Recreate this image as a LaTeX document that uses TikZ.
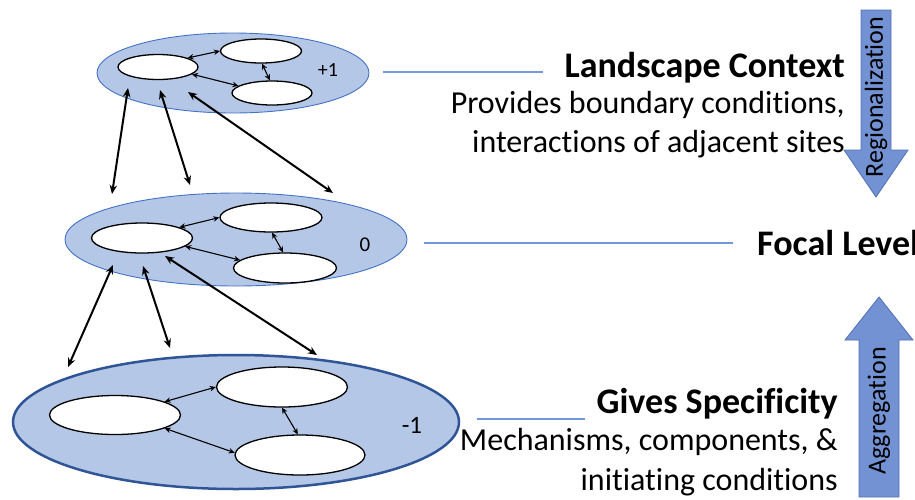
\documentclass[tikz,border=0pt]{standalone}
\usepackage{fontspec}
\setmainfont{Carlito}[Ligatures=NoCommon]
\usetikzlibrary{shapes.geometric,arrows.meta}
\definecolor{lvlfill}{RGB}{180,199,231}
\definecolor{lvlline}{RGB}{68,114,196}
\definecolor{lvldark}{RGB}{47,85,151}
\definecolor{leadcol}{RGB}{114,151,218}
\definecolor{bigarrfill}{RGB}{114,146,212}
\definecolor{bigarrline}{RGB}{80,112,180}
\newcommand\myttlfont{\fontsize{36}{40}\selectfont\bfseries}
\newcommand\mybodyfont{\fontsize{32}{38}\selectfont}
\newcommand\mylvlfont{\fontsize{20}{24}\selectfont}
\newcommand\myarrfont{\fontsize{26}{30}\selectfont}
\begin{document}
\begin{tikzpicture}[x=1pt,y=-1pt,
  level/.style={ellipse, draw=lvlline, fill=lvlfill, line width=0.9pt, inner sep=0pt},
  comp/.style={ellipse, draw=black, fill=white, line width=1.3pt, inner sep=0pt},
  link/.style={{Stealth[length=6pt,width=5.5pt]}-{Stealth[length=6pt,width=5.5pt]}, line width=1.1pt},
  cross/.style={{Stealth[length=9pt,width=7.5pt]}-{Stealth[length=9pt,width=7.5pt]}, line width=2pt},
  lead/.style={draw=leadcol, line width=1.2pt},
  bigarr/.style={fill=bigarrfill, draw=bigarrline, line width=0.8pt},
  ttl/.style={anchor=base east, inner sep=0pt, font=\myttlfont},
  body/.style={anchor=base east, inner sep=0pt, font=\mybodyfont},
  lvltxt/.style={inner sep=0pt, font=\mylvlfont},
  arrtxt/.style={rotate=90, inner sep=0pt, font=\myarrfont}]
\useasboundingbox (0,0) rectangle (915,499);
\clip (0,0) rectangle (915,499);

% level ellipses
\node[level, minimum width=272pt, minimum height=80pt] (Lt) at (233,73) {};
\node[level, minimum width=342pt, minimum height=93pt] (Lm) at (236,239.5) {};
\node[level, draw=lvldark, line width=2.5pt, minimum width=446pt, minimum height=134pt] (Lb) at (236,422) {};

% components top
\node[comp, minimum width=80pt, minimum height=25pt] (tA) at (158,67) {};
\node[comp, minimum width=81pt, minimum height=24pt] (tB) at (261,51) {};
\node[comp, minimum width=80pt, minimum height=24pt] (tC) at (272,93) {};
% components middle
\node[comp, minimum width=101pt, minimum height=30pt] (mA) at (142,238) {};
\node[comp, minimum width=102pt, minimum height=29pt] (mB) at (271,217.5) {};
\node[comp, minimum width=103pt, minimum height=30pt] (mC) at (285,268) {};
% components bottom
\node[comp, minimum width=131pt, minimum height=39pt] (bA) at (115,415) {};
\node[comp, minimum width=131pt, minimum height=40pt] (bB) at (282,387) {};
\node[comp, minimum width=130pt, minimum height=40pt] (bC) at (300,455) {};

% level labels
\node[lvltxt] (lp) at (328,70) {+1};
\node[lvltxt, font=\fontsize{21}{24}\selectfont] (l0) at (365,245) {0};
\node[lvltxt, font=\fontsize{25}{28}\selectfont] (lm) at (412,425) {-1};

% links inside levels
\draw[link] (tA.17) -- (tB.180);
\draw[link] (tA.-12) -- (tC.168);
\draw[link] (tB.-85) -- (tC.100);
\draw[link] (mA.16) -- (mB.180);
\draw[link] (mA.-11) -- (mC.170);
\draw[link] (mB.-86) -- (mC.97);
\draw[link] (bA.15) -- (bB.180);
\draw[link] (bA.-15) -- (bC.178);
\draw[link] (bB.-90) -- (bC.96);

% cross-level links
\coordinate (c1a) at (128,88);  \coordinate (c1b) at (112,194);
\coordinate (c2a) at (160,90);  \coordinate (c2b) at (190,185);
\coordinate (c3a) at (188,92);  \coordinate (c3b) at (333,193);
\coordinate (d1a) at (113,265); \coordinate (d1b) at (68,367);
\coordinate (d2a) at (143,266); \coordinate (d2b) at (170,348);
\coordinate (d3a) at (165,256); \coordinate (d3b) at (317,355);
\draw[cross] (c1a) -- (c1b);
\draw[cross] (c2a) -- (c2b);
\draw[cross] (c3a) -- (c3b);
\draw[cross] (d1a) -- (d1b);
\draw[cross] (d2a) -- (d2b);
\draw[cross] (d3a) -- (d3b);

% leader lines
\coordinate (g1a) at (383,72);  \coordinate (g1b) at (543,72);
\coordinate (g2a) at (424,243); \coordinate (g2b) at (733,243);
\coordinate (g3a) at (477,419); \coordinate (g3b) at (585,419);
\draw[lead] (g1a) -- (g1b);
\draw[lead] (g2a) -- (g2b);
\draw[lead] (g3a) -- (g3b);

% texts
\node[ttl] (t1) at (845,77) {Landscape Context};
\node[body] (t2) at (845,113) {Provides boundary conditions,};
\node[body] (t3) at (845,152) {interactions of adjacent sites};
\node[ttl, anchor=base west] (t4) at (757,255) {Focal Level};
\node[ttl] (t5) at (838,413) {Gives Specificity};
\node[body] (t6) at (838,450) {Mechanisms, components, \&};
\node[body] (t7) at (838,490) {initiating conditions};

% big arrows
\path[bigarr] (861,10) -- (891,10) -- (891,150) -- (908,150) -- (876,197)
  -- (844,150) -- (861,150) -- cycle;
\node[arrtxt] (ra) at (876,97) {Regionalization};
\path[bigarr] (879,297) -- (913,340) -- (899,340) -- (899,497) -- (859,497)
  -- (859,340) -- (845,340) -- cycle;
\node[arrtxt] (aa) at (879,411) {Aggregation};
\end{tikzpicture}
\end{document}
